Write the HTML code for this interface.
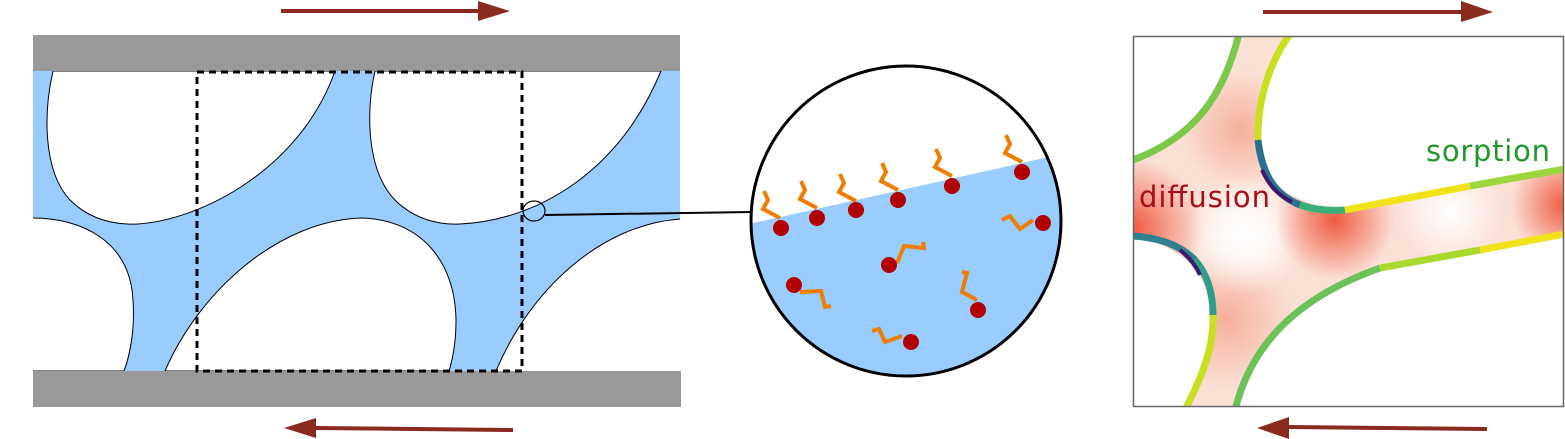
<!DOCTYPE html>
<html><head><meta charset="utf-8"><style>
html,body{margin:0;padding:0;background:#fff;}
svg{display:block;}
text{font-family:"DejaVu Sans","Liberation Sans",sans-serif;}
</style></head><body>
<svg width="1565" height="439" viewBox="0 0 1565 439" xmlns="http://www.w3.org/2000/svg">
<defs>
<clipPath id="cc"><circle cx="906" cy="221" r="155"/></clipPath>
<clipPath id="rb"><rect x="1133" y="36" width="430" height="370"/></clipPath>
<radialGradient id="g1" cx="1133" cy="228" r="70" gradientUnits="userSpaceOnUse"><stop offset="0" stop-color="#f05a40"/><stop offset="1" stop-color="#f05a40" stop-opacity="0"/></radialGradient>
<radialGradient id="g2" cx="1335" cy="220" r="60" gradientUnits="userSpaceOnUse"><stop offset="0" stop-color="#f05a40"/><stop offset="1" stop-color="#f05a40" stop-opacity="0"/></radialGradient>
<radialGradient id="g3" cx="1565" cy="205" r="55" gradientUnits="userSpaceOnUse"><stop offset="0" stop-color="#f05a40"/><stop offset="1" stop-color="#f05a40" stop-opacity="0"/></radialGradient>
<radialGradient id="g4" cx="1225" cy="320" r="70" gradientUnits="userSpaceOnUse"><stop offset="0" stop-color="#f5b09a"/><stop offset="1" stop-color="#f5b09a" stop-opacity="0"/></radialGradient>
<radialGradient id="g5" cx="1240" cy="130" r="60" gradientUnits="userSpaceOnUse"><stop offset="0" stop-color="#f5b09a"/><stop offset="1" stop-color="#f5b09a" stop-opacity="0"/></radialGradient>
<radialGradient id="gw" cx="1245" cy="235" r="60" gradientUnits="userSpaceOnUse"><stop offset="0" stop-color="#fff"/><stop offset="0.4" stop-color="#fff" stop-opacity="0.8"/><stop offset="1" stop-color="#fff" stop-opacity="0"/></radialGradient>
<radialGradient id="gw2" cx="1450" cy="212" r="55" gradientUnits="userSpaceOnUse"><stop offset="0" stop-color="#fff"/><stop offset="1" stop-color="#fff" stop-opacity="0"/></radialGradient>
</defs>

<!-- left panel -->
<rect x="33" y="71" width="647" height="300" fill="#99ccff"/>
<g fill="#fff" stroke="#000" stroke-width="1">
<path d="M53,71 C44,110 42,170 70,200 C90,220 115,225 138,224 C200,220 300,170 335,71 Z"/>
<path d="M375,71 C366,110 366,170 395,200 C415,220 440,225 460,224 C540,220 620,170 661,71 Z"/>
<path d="M165,371 C200,290 280,220 362,218 C420,220 455,260 456,320 C456,340 453,358 449,371 Z"/>
</g>
<g fill="#fff" stroke="none">
<path d="M33,218 C80,218 130,240 133,300 C135,330 130,355 124,371 L33,371 Z"/>
<path d="M496,371 C530,290 600,225 680,219 L681,371 Z"/>
</g>
<g fill="none" stroke="#000" stroke-width="1">
<path d="M33,218 C80,218 130,240 133,300 C135,330 130,355 124,371 L33,371"/>
<path d="M496,371 C530,290 600,225 680,219"/>
</g>
<rect x="33" y="35" width="647" height="36" fill="#999"/>
<rect x="33" y="371" width="648" height="36" fill="#999"/>
<rect x="197" y="72" width="325" height="299" fill="none" stroke="#000" stroke-width="3" stroke-dasharray="7,5"/>
<ellipse cx="534" cy="211" rx="11" ry="10" fill="none" stroke="#000" stroke-width="1.2"/>
<line x1="545" y1="215" x2="752" y2="212" stroke="#000" stroke-width="2"/>

<!-- arrows -->
<g fill="#8b2a1f">
<rect x="281" y="9" width="200" height="4"/><polygon points="478,1 510,11 478,21"/>
<polygon points="513,428 513,432 314,430 314,426"/><polygon points="316,418 284,428 316,438"/>
<rect x="1263" y="10" width="200" height="4"/><polygon points="1461,1 1493,12 1461,22"/>
<polygon points="1487,427 1487,431 1288,429 1288,425"/><polygon points="1289,417 1257,428 1289,439"/>
</g>

<!-- circle -->
<g clip-path="url(#cc)">
<rect x="740" y="60" width="340" height="330" fill="#fff"/>
<polygon points="740,226 1080,150 1080,400 740,400" fill="#99ccff"/>
</g>
<circle cx="906" cy="221" r="155" fill="none" stroke="#000" stroke-width="3"/>
<g fill="none" stroke="#ee7d00" stroke-width="4">
<polyline points="780,218 763,209 768,200 764,191"/>
<polyline points="817,208 800,199 805,190 801,181"/>
<polyline points="856,201 839,192 844,183 840,174"/>
<polyline points="898,190 881,181 886,172 882,163"/>
<polyline points="952,176 935,167 940,158 936,149"/>
<polyline points="1022,162 1005,153 1010,144 1006,135"/>
<polyline points="897,263 904,246 924,248 923,242"/>
<polyline points="800,292 821,291 825,307 831,306"/>
<polyline points="977,300 962,292 967,273 962,272"/>
<polyline points="902,336 885,342 879,329 872,331"/>
<polyline points="1033,220 1020,229 1010,216 1002,220"/>
</g>
<g fill="#b00000">
<circle cx="781" cy="228" r="8"/><circle cx="817" cy="218" r="8"/><circle cx="856" cy="210" r="8"/>
<circle cx="898" cy="200" r="8"/><circle cx="952" cy="186" r="8"/><circle cx="1022" cy="172" r="8"/>
<circle cx="1043" cy="223" r="8"/><circle cx="889" cy="265" r="8"/><circle cx="794" cy="285" r="8"/>
<circle cx="978" cy="310" r="8"/><circle cx="911" cy="342" r="8"/>
</g>

<!-- right panel -->
<g clip-path="url(#rb)">
<path d="M1240,30 C1225,90 1200,135 1133,160 L1133,236 C1180,245 1205,270 1212,310 C1215,350 1200,380 1185,410 L1235,410 C1250,350 1290,300 1380,268 L1570,232 L1570,168 L1340,210 C1290,205 1262,180 1258,140 C1255,100 1270,60 1293,30 Z" fill="#fbe0d6"/>
<rect x="1133" y="36" width="430" height="370" fill="url(#g4)"/>
<rect x="1133" y="36" width="430" height="370" fill="url(#g5)"/>
<rect x="1133" y="36" width="430" height="370" fill="url(#gw)"/>
<rect x="1133" y="36" width="430" height="370" fill="url(#gw2)"/>
<rect x="1133" y="36" width="430" height="370" fill="url(#g1)"/>
<rect x="1133" y="36" width="430" height="370" fill="url(#g2)"/>
<rect x="1133" y="36" width="430" height="370" fill="url(#g3)"/>
<path d="M1240,30 C1225,90 1200,135 1133,160 L1120,160 L1120,30 Z" fill="#fff"/>
<path d="M1293,30 C1270,60 1255,100 1258,140 C1262,180 1290,205 1340,210 L1570,168 L1570,30 Z" fill="#fff"/>
<path d="M1133,236 C1180,245 1205,270 1212,310 C1215,350 1200,380 1185,410 L1120,410 L1120,236 Z" fill="#fff"/>
<path d="M1235,410 C1250,350 1290,300 1380,268 L1570,232 L1570,410 Z" fill="#fff"/>
<g fill="none" stroke-width="7">
<path d="M1240,30 C1225,90 1200,135 1133,160" stroke="#7cc84a"/>
<path d="M1293,30 C1270,60 1257,100 1258,140" stroke="#c9e020"/>
<path d="M1258,140 C1262,175 1275,195 1300,205" stroke="#2a6f8e"/>
<path d="M1300,205 C1315,210 1330,211 1345,210" stroke="#3bb07a"/>
<path d="M1345,210 L1470,186" stroke="#f0e419"/>
<path d="M1470,186 L1570,168" stroke="#9bd63d"/>
<path d="M1133,236 C1160,238 1180,245 1195,260" stroke="#30808e"/>
<path d="M1195,260 C1208,275 1213,295 1213,315" stroke="#2e9e8a"/>
<path d="M1213,315 C1214,350 1200,380 1185,410" stroke="#c8df22"/>
<path d="M1235,410 C1250,350 1290,300 1380,268" stroke="#6bc258"/>
<path d="M1380,268 L1480,250" stroke="#a9d92f"/>
<path d="M1480,250 L1570,233" stroke="#f2e21b"/>
</g>
<path d="M1262,170 C1270,188 1280,196 1292,202" fill="none" stroke="#3b1a6e" stroke-width="4"/>
<path d="M1180,250 C1190,258 1196,266 1200,275" fill="none" stroke="#3b1a6e" stroke-width="4"/>
</g>
<rect x="1133.5" y="36.5" width="430" height="370" fill="none" stroke="#666" stroke-width="1.5"/>
<text x="1139" y="207" font-size="29" fill="#a50f15" textLength="131">diffusion</text>
<text x="1426" y="161" font-size="29" fill="#1f9a2a" textLength="124">sorption</text>
</svg>
</body></html>
